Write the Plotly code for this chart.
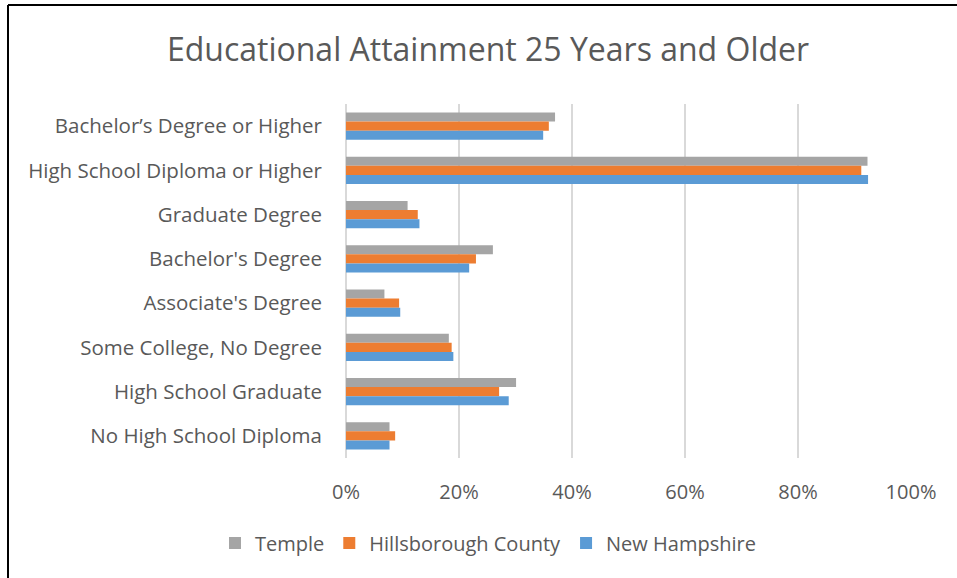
import plotly.graph_objects as go

# categories, top to bottom as shown
categories = [
    "Bachelor\u2019s Degree or Higher",
    "High School Diploma or Higher",
    "Graduate Degree",
    "Bachelor's Degree",
    "Associate's Degree",
    "Some College, No Degree",
    "High School Graduate",
    "No High School Diploma",
]

# shares (fraction of population 25+)
temple = [0.370, 0.923, 0.109, 0.260, 0.068, 0.182, 0.301, 0.077]
hillsborough = [0.359, 0.912, 0.127, 0.230, 0.094, 0.187, 0.271, 0.087]
new_hampshire = [0.349, 0.924, 0.130, 0.218, 0.096, 0.190, 0.288, 0.077]

series = [
    ("Temple", temple, "#A5A5A5"),
    ("Hillsborough County", hillsborough, "#ED7D31"),
    ("New Hampshire", new_hampshire, "#5B9BD5"),
]

font_family = "Open Sans, Liberation Sans, sans-serif"
text_color = "#595959"

fig = go.Figure()
for name, vals, color in series:
    fig.add_trace(go.Bar(
        y=categories,
        x=vals,
        name=name,
        orientation="h",
        marker=dict(color=color, line=dict(width=0)),
    ))

# plot area: 0% at x=346, 100% at x=911, y from 104 to 458
L, R, T, B = 346, 957 - 911, 104, 578 - 458
pw, ph = 957 - L - R, 578 - T - B

fig.update_layout(
    width=957,
    height=578,
    barmode="group",
    bargap=0.38,
    bargroupgap=0,
    margin=dict(l=L, r=R, t=T, b=B, autoexpand=False),
    plot_bgcolor="white",
    paper_bgcolor="white",
    font=dict(family=font_family, color=text_color, size=20),
    title=dict(
        text="Educational Attainment 25 Years and Older",
        x=488 / 957, xref="container", xanchor="center",
        y=1 - 50 / 578, yref="container", yanchor="middle",
        font=dict(size=32, color=text_color, family=font_family),
    ),
    xaxis=dict(
        range=[0, 1.0],
        tickvals=[0, 0.2, 0.4, 0.6, 0.8, 1.0],
        tickformat=".0%",
        showgrid=True,
        gridcolor="#D9D9D9",
        gridwidth=1.5,
        zeroline=True,
        zerolinecolor="#D9D9D9",
        zerolinewidth=1.5,
        showline=False,
        ticks="",
        ticklabelstandoff=20,
        tickfont=dict(size=20, color=text_color),
        fixedrange=True,
    ),
    yaxis=dict(
        autorange="reversed",
        showgrid=False,
        ticks="",
        ticklabelstandoff=23,
        tickfont=dict(size=20.5, color=text_color),
        fixedrange=True,
    ),
    legend=dict(
        orientation="h",
        x=(488 - L) / pw,
        xanchor="center",
        y=(458 - 543) / ph,
        yanchor="middle",
        font=dict(size=20, color=text_color),
        itemwidth=30,
    ),
    showlegend=True,
)

# partial black frame (top and left edges)
fig.add_shape(type="line", xref="paper", yref="paper",
              x0=(8 - L) / pw, x1=(960 - L) / pw,
              y0=(458 - 5) / ph, y1=(458 - 5) / ph,
              line=dict(color="black", width=2))
fig.add_shape(type="line", xref="paper", yref="paper",
              x0=(8 - L) / pw, x1=(8 - L) / pw,
              y0=(458 - 5) / ph, y1=(458 - 580) / ph,
              line=dict(color="black", width=2))

fig.write_html("out.html", config={"displayModeBar": False},
               post_script="document.body.style.margin='0';")
